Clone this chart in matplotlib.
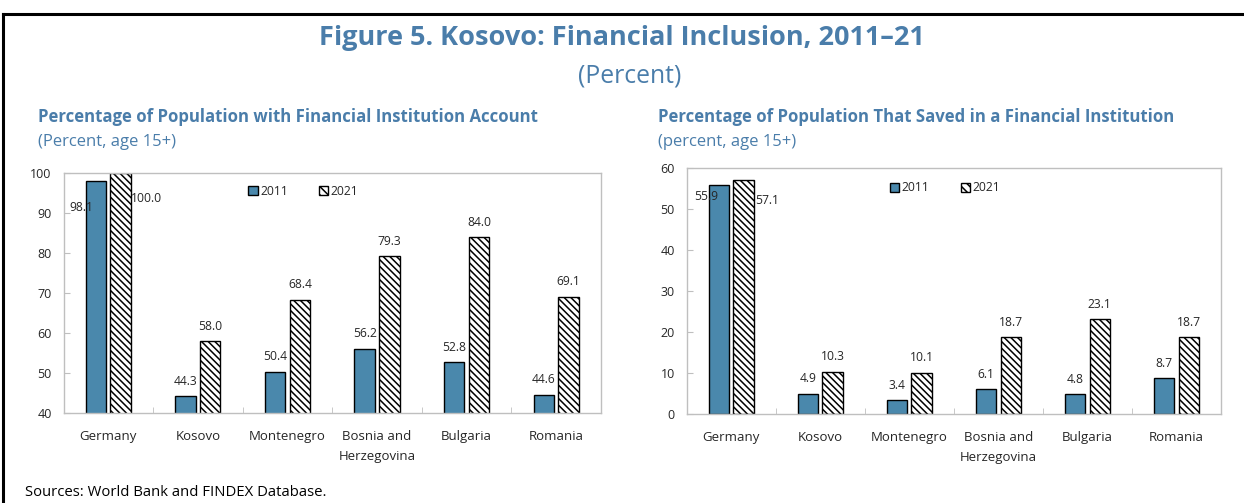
import matplotlib
matplotlib.use("Agg")
import matplotlib.pyplot as plt
from matplotlib.lines import Line2D
from matplotlib.patches import Patch
import numpy as np

plt.rcParams['font.family'] = ['Open Sans', 'DejaVu Sans']
plt.rcParams['hatch.linewidth'] = 1.1

countries = ["Germany", "Kosovo", "Montenegro", "Bosnia and\nHerzegovina", "Bulgaria", "Romania"]
years = ["2011", "2021"]

# left panel: account ownership
account_2011 = [98.1, 44.3, 50.4, 56.2, 52.8, 44.6]
account_2021 = [100.0, 58.0, 68.4, 79.3, 84.0, 69.1]

# right panel: saved at a financial institution
saved_2011 = [55.9, 4.9, 3.4, 6.1, 4.8, 8.7]
saved_2021 = [57.1, 10.3, 10.1, 18.7, 23.1, 18.7]

blue = "#4A88AC"
title_blue = "#4A7DAA"
txt = "#262626"
grey = "#BFBFBF"

fig = plt.figure(figsize=(12.44, 5.03), dpi=100)

# frame lines round the figure (top and left only)
fig.add_artist(Line2D([3 / 1244, 1], [1 - 14 / 503, 1 - 14 / 503], color="black", lw=2.2))
fig.add_artist(Line2D([3 / 1244, 3 / 1244], [0, 1 - 14 / 503], color="black", lw=2.2))

fig.text(0.5, 1 - 38 / 503, "Figure 5. Kosovo: Financial Inclusion, 2011\u201321",
         ha="center", va="center", fontsize=19.5, fontweight="bold", color=title_blue)
fig.text(0.506, 1 - 76 / 503, "(Percent)", ha="center", va="center", fontsize=17.8, color=title_blue)
fig.text(25 / 1244, 1 - 492 / 503, "Sources: World Bank and FINDEX Database.",
         ha="left", va="center", fontsize=10.7, color="black")


def draw_panel(rect, v11, v21, ylim, title, sub, sub_x, leg_xy, germany_offsets):
    ax = fig.add_axes(rect)
    x = np.arange(len(countries))
    w = 0.228
    off = 0.138
    ax.bar(x - off, v11, w, color=blue, edgecolor="black", linewidth=1.0)
    ax.bar(x + off, v21, w, color="white", edgecolor="black", linewidth=1.0,
           hatch="\\\\\\\\\\")
    ax.set_xlim(-0.5, len(countries) - 0.5)
    ax.set_ylim(*ylim)
    ax.set_yticks(np.arange(ylim[0], ylim[1] + 1, 10))
    ax.set_xticks(x)
    ax.set_xticklabels(countries, fontsize=9.5, color=txt, linespacing=1.75)
    ax.set_xticks(np.arange(0.5, len(countries) - 1, 1), minor=True)
    ax.tick_params(axis="x", which="major", length=0, pad=12)
    ax.tick_params(axis="x", which="minor", direction="in", length=4, color=grey)
    ax.tick_params(axis="y", direction="in", length=4, color=grey, labelsize=9,
                   labelcolor=txt, pad=8.5)
    for s in ax.spines.values():
        s.set_color(grey)
        s.set_linewidth(1.0)

    # value labels
    for i in range(len(countries)):
        for xv, val, k in ((x[i] - off, v11[i], 0), (x[i] + off, v21[i], 1)):
            if i == 0:
                dx, dy = germany_offsets[k]
            else:
                dx, dy = 0, 15
            ax.annotate(f"{val:.1f}", (xv, val), xytext=(dx, dy), textcoords="offset pixels",
                        ha="center", va="center", fontsize=8.7, color=txt)

    handles = [Patch(facecolor=blue, edgecolor="black", linewidth=1.0),
               Patch(facecolor="white", edgecolor="black", linewidth=1.0, hatch="\\\\\\\\")]
    ax.legend(handles, years, loc="center", bbox_to_anchor=leg_xy, ncol=2, frameon=False,
              fontsize=8.7, handlelength=0.75, handleheight=0.75, handletextpad=0.2,
              columnspacing=2.6, labelcolor=txt)

    fig.text(sub_x, 1 - 117 / 503, title, ha="left", va="center", fontsize=12.1,
             fontweight="bold", color=title_blue)
    fig.text(sub_x, 1 - 142 / 503, sub, ha="left", va="center", fontsize=12, color=title_blue)
    return ax


draw_panel([63.5 / 1244, 1 - 413.3 / 503, 537.5 / 1244, 240 / 503],
           account_2011, account_2021, (40, 100),
           "Percentage of Population with Financial Institution Account",
           "(Percent, age 15+)", 38 / 1244, (0.4465, 0.926),
           [(-15, -27), (26, -25)])

draw_panel([686.7 / 1244, 1 - 414 / 503, 534.3 / 1244, 245.7 / 503],
           saved_2011, saved_2021, (0, 60),
           "Percentage of Population That Saved in a Financial Institution",
           "(percent, age 15+)", 658 / 1244, (0.4834, 0.92),
           [(-13, -11), (24, -20)])

fig.savefig("out.png", dpi=100)
